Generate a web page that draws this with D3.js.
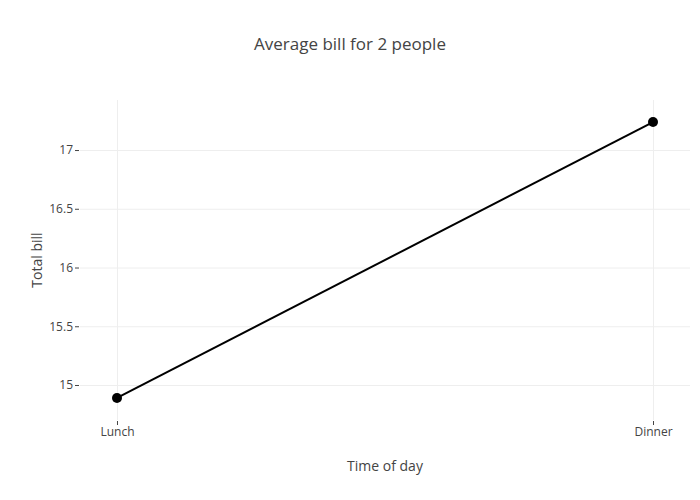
<!DOCTYPE html>
<head>
  <meta charset="utf-8">
  <script src="https://d3js.org/d3.v7.min.js"></script>
  <style>
    body { margin: 0; background: #fff; }
    text { font-family: 'Open Sans', sans-serif; fill: #444; }
    .axis path { display: none; }
    .axis text { font-size: 12px; }
    .grid line { stroke: #eee; stroke-width: 1px; }
    .grid path { display: none; }
  </style>
</head>
<body>
  <script>
    var categories = ["Lunch", "Dinner"];
    var totalBill = [14.89, 17.238];
    var yTicks = [15, 15.5, 16, 16.5, 17];

    var width = 700, height = 500;
    var margin = {top: 100, right: 10, bottom: 80, left: 80};
    var plotW = width - margin.left - margin.right;
    var plotH = height - margin.top - margin.bottom;

    var svg = d3.select("body").append("svg")
        .attr("width", width)
        .attr("height", height);

    var g = svg.append("g")
        .attr("transform", "translate(" + margin.left + "," + margin.top + ")");

    var x = d3.scaleLinear()
        .domain([-0.069, categories.length - 1 + 0.069])
        .range([0, plotW]);

    var y = d3.scaleLinear()
        .domain([14.702, 17.426])
        .range([plotH, 0]);

    // grid
    g.append("g")
        .attr("class", "grid")
        .call(d3.axisLeft(y).tickValues(yTicks).tickSize(-plotW).tickFormat(""));

    g.append("g")
        .attr("class", "grid")
        .attr("transform", "translate(0," + plotH + ")")
        .call(d3.axisBottom(x).tickValues(d3.range(categories.length)).tickSize(-plotH).tickFormat(""));

    // axes
    var yAxis = d3.axisLeft(y)
        .tickValues(yTicks)
        .tickSize(4)
        .tickPadding(2)
        .tickFormat(function(d) { return d; });

    g.append("g")
        .attr("class", "axis")
        .attr("transform", "translate(-1,0)")
        .call(yAxis)
        .selectAll("line").attr("stroke", "#444");

    var xAxis = d3.axisBottom(x)
        .tickValues(d3.range(categories.length))
        .tickSize(4)
        .tickPadding(2)
        .tickFormat(function(i) { return categories[i]; });

    g.append("g")
        .attr("class", "axis")
        .attr("transform", "translate(0," + (plotH + 1) + ")")
        .call(xAxis)
        .selectAll("line").attr("stroke", "#444");

    // line and markers
    var line = d3.line()
        .x(function(d, i) { return x(i); })
        .y(function(d) { return y(d); });

    g.append("path")
        .datum(totalBill)
        .attr("fill", "none")
        .attr("stroke", "#000")
        .attr("stroke-width", 2)
        .attr("d", line);

    g.selectAll(".dot")
        .data(totalBill)
      .enter().append("circle")
        .attr("class", "dot")
        .attr("cx", function(d, i) { return x(i); })
        .attr("cy", function(d) { return y(d); })
        .attr("r", 5)
        .attr("fill", "#000");

    // titles
    svg.append("text")
        .attr("x", width / 2)
        .attr("y", 50)
        .attr("text-anchor", "middle")
        .style("font-size", "17px")
        .text("Average bill for 2 people");

    svg.append("text")
        .attr("x", margin.left + plotW / 2)
        .attr("y", 471)
        .attr("text-anchor", "middle")
        .style("font-size", "14px")
        .text("Time of day");

    svg.append("text")
        .attr("transform", "translate(42," + (margin.top + plotH / 2) + ") rotate(-90)")
        .attr("text-anchor", "middle")
        .style("font-size", "14px")
        .text("Total bill");
  </script>
</body>
